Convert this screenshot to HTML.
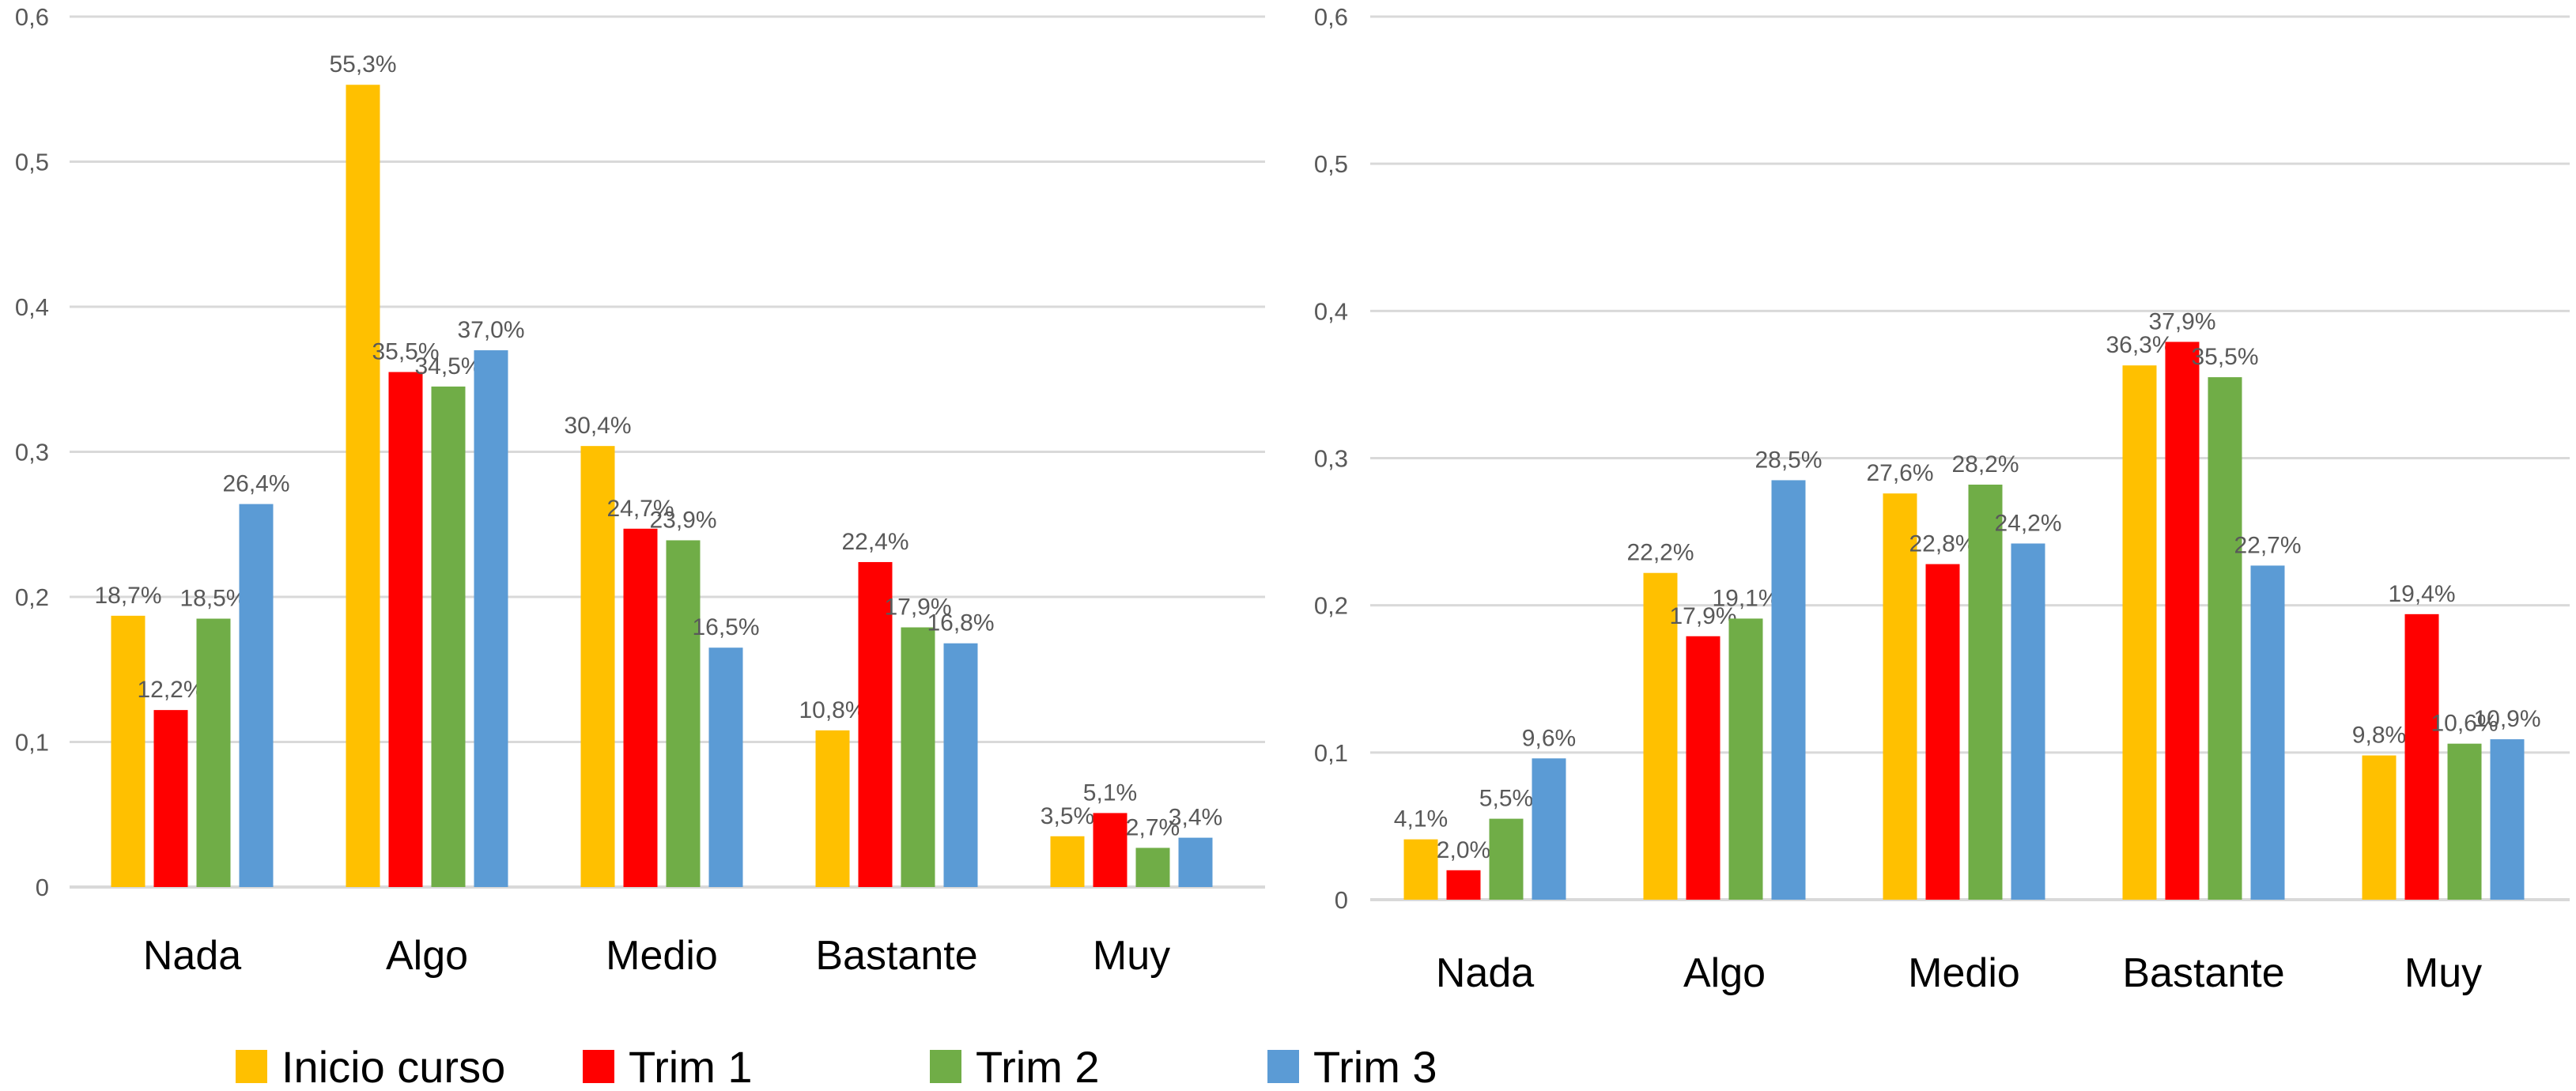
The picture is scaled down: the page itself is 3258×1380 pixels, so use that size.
<!DOCTYPE html>
<html><head><meta charset="utf-8"><style>
html,body{margin:0;padding:0;background:#fff;}
svg{display:block;font-family:"Liberation Sans",sans-serif;}
</style></head><body>
<svg id="c" width="3258" height="1380" viewBox="0 0 3258 1380"></svg>
<script>
const categories = ["Nada","Algo","Medio","Bastante","Muy"];
const seriesNames = ["Inicio curso","Trim 1","Trim 2","Trim 3"];
const leftInicio = [0.187,0.553,0.304,0.108,0.035];
const leftTrim1 = [0.122,0.355,0.247,0.224,0.051];
const leftTrim2 = [0.185,0.345,0.239,0.179,0.027];
const leftTrim3 = [0.264,0.370,0.165,0.168,0.034];
const rightInicio = [0.041,0.222,0.276,0.363,0.098];
const rightTrim1 = [0.020,0.179,0.228,0.379,0.194];
const rightTrim2 = [0.055,0.191,0.282,0.355,0.106];
const rightTrim3 = [0.096,0.285,0.242,0.227,0.109];
const yTicks = [0,0.1,0.2,0.3,0.4,0.5,0.6];
const yTickLabels = ["0","0,1","0,2","0,3","0,4","0,5","0,6"];
const colors = ["#FFC000","#FF0000","#70AD47","#5B9BD5"];
const NS="http://www.w3.org/2000/svg";
const svg=document.getElementById('c');
function mk(tag,attrs,parent){const e=document.createElementNS(NS,tag);for(const k in attrs)e.setAttribute(k,attrs[k]);(parent||svg).appendChild(e);return e;}
function fmt(v){return (v*100).toFixed(1).replace('.',',')+'%';}
function drawChart(cfg,series,prefix){
  const g=mk('g',{});
  
  
  const y=v=>cfg.y0-(v/0.6)*(cfg.y0-cfg.y6);
  const xc=i=>cfg.c0+i*cfg.cs;
  yTicks.forEach((t,i)=>{
    const l=mk('line',{x1:cfg.gx1,x2:cfg.gx2,y1:y(t),y2:y(t),stroke:'#D9D9D9','stroke-width':i===0?4:3},g);
    
    
    const tx=mk('text',{x:cfg.lx,y:y(t)+11,'text-anchor':'end','font-size':31,fill:'#595959'},g);
    tx.textContent=yTickLabels[i];
    
    
  });
  const step=54,bw=43;
  categories.forEach((c,i)=>{
    series.forEach((s,k)=>{
      const cx=xc(i)+(k-1.5)*step;
      const r=mk('rect',{x:cx-bw/2,y:y(s[i]),width:bw,height:y(0)-y(s[i]),fill:colors[k]},g);
      
      
      const t=mk('text',{x:cx,y:y(s[i])-16,'text-anchor':'middle','font-size':30,fill:'#595959'},g);
      t.textContent=fmt(s[i]);
      
      
    });
    const ct=mk('text',{x:xc(i),y:cfg.cy,'text-anchor':'middle','font-size':52,fill:'#000'},g);
    ct.textContent=c;
    
    
  });
}
drawChart({gx1:88,gx2:1600,lx:62,y0:1122,y6:21,c0:243,cs:297,cy:1226},[leftInicio,leftTrim1,leftTrim2,leftTrim3],'left');
drawChart({gx1:1733,gx2:3250,lx:1705,y0:1138,y6:21,c0:1878,cs:303,cy:1248},[rightInicio,rightTrim1,rightTrim2,rightTrim3],'right');
const legX=[298,737,1176,1603];
const lg=mk('g',{});


seriesNames.forEach((n,k)=>{
  const r=mk('rect',{x:legX[k],y:1328,width:40,height:42,fill:colors[k]},lg);
  
  
  const t=mk('text',{x:legX[k]+58,y:1369,'font-size':56,fill:'#000'},lg);
  t.textContent=n;
  
  
});
</script>
</body></html>
